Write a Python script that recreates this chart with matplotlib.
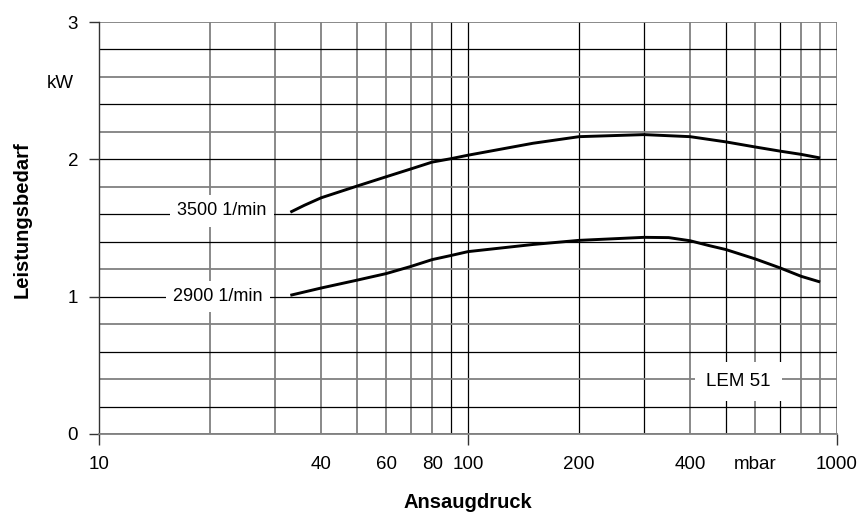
import matplotlib
matplotlib.use("Agg")
import matplotlib.pyplot as plt
from matplotlib.ticker import FixedLocator, FixedFormatter

plt.rcParams['font.family'] = ['Liberation Sans', 'DejaVu Sans']

# --- data ---
p_3500 = [33, 36, 40, 50, 60, 70, 80, 90, 100, 150, 200, 300, 400, 500, 600, 700, 800, 900]
kw_3500 = [1.615, 1.665, 1.72, 1.805, 1.873, 1.93, 1.98, 2.005, 2.03, 2.117, 2.165, 2.18,
           2.165, 2.127, 2.09, 2.06, 2.036, 2.01]

p_2900 = [33, 40, 50, 60, 70, 80, 90, 100, 150, 200, 300, 350, 400, 450, 500, 600, 700, 800, 900]
kw_2900 = [1.01, 1.063, 1.12, 1.168, 1.22, 1.27, 1.30, 1.328, 1.38, 1.41, 1.432, 1.43,
           1.407, 1.372, 1.343, 1.275, 1.21, 1.148, 1.107]

label_3500 = "3500 1/min"
label_2900 = "2900 1/min"
model = "LEM 51"

x_major = [10, 100, 1000]
x_major_labels = ["10", "100", "1000"]
x_minor = [40, 60, 80, 200, 400, 600]
x_minor_labels = ["40", "60", "80", "200", "400", "mbar"]
y_ticks = [0, 1, 2, 3]

v_grid = [20, 30, 40, 50, 60, 70, 80, 90, 100, 200, 300, 400, 500, 600, 700, 800, 900, 1000]
v_dark = [90, 100, 200, 300, 500, 700]
h_grid = [round(0.2 * i, 1) for i in range(16)]
h_dark = [0.2, 0.6, 1.0, 1.4, 1.6, 2.0, 2.4, 2.8]

W, H = 862, 516
fig = plt.figure(figsize=(W / 100, H / 100), dpi=100)
ax = fig.add_axes([99 / W, 1 - 434 / H, (837 - 99) / W, (434 - 22) / H])
ax.set_xscale('log')
ax.set_xlim(10, 1000)
ax.set_ylim(0, 3)

GRAY = '#808080'
for v in v_grid:
    dark = v in v_dark
    ax.axvline(v, color='black' if dark else GRAY, lw=0.9 if dark else 1.3, zorder=1)
for h in h_grid:
    dark = h in h_dark
    ax.axhline(h, color='black' if dark else GRAY, lw=0.9 if dark else 1.3, zorder=1)

ax.plot(p_3500, kw_3500, color='black', lw=2.1, zorder=3, solid_capstyle='butt')
ax.plot(p_2900, kw_2900, color='black', lw=2.1, zorder=3, solid_capstyle='butt')

for s in ['top', 'right']:
    ax.spines[s].set_visible(False)
ax.spines['left'].set_color('#333333')
ax.spines['left'].set_linewidth(1.0)
ax.spines['bottom'].set_color(GRAY)
ax.spines['bottom'].set_linewidth(1.3)
ax.spines['left'].set_zorder(2)

ax.xaxis.set_major_locator(FixedLocator(x_major))
ax.xaxis.set_major_formatter(FixedFormatter(x_major_labels))
ax.xaxis.set_minor_locator(FixedLocator(x_minor))
ax.xaxis.set_minor_formatter(FixedFormatter(x_minor_labels))
ax.tick_params(axis='x', which='major', direction='out', length=8, width=1.0,
               color='#333333', pad=8, labelsize=13.5)
ax.tick_params(axis='x', which='minor', direction='out', length=0, pad=16, labelsize=13.5)
ax.set_yticks(y_ticks)
ax.set_yticklabels([str(t) for t in y_ticks])
ax.tick_params(axis='y', direction='out', length=7, width=1.0, color='#333333',
               pad=8, labelsize=13.5)

bbox = dict(facecolor='white', edgecolor='none', boxstyle='square,pad=0.4')
ax.text(21.5, 1.625, label_3500, fontsize=13, ha='center', va='center',
        bbox=bbox, zorder=4)
ax.text(21.0, 1.0, label_2900, fontsize=13, ha='center', va='center',
        bbox=bbox, zorder=4)
ax.text(0.866, 0.128, model, fontsize=13.5, ha='center', va='center',
        transform=ax.transAxes,
        bbox=dict(facecolor='white', edgecolor='none', boxstyle='square,pad=0.6'),
        zorder=4)

fig.text(60 / W, 1 - 83 / H, "kW", fontsize=13.5, ha='center', va='center')
fig.text(22 / W, 1 - 220 / H, "Leistungsbedarf", fontsize=14.5, fontweight='bold',
         rotation=90, ha='center', va='center')
fig.text(468 / W, 1 - 502 / H, "Ansaugdruck", fontsize=14.5, fontweight='bold',
         ha='center', va='center')

fig.savefig("out.png", dpi=100)
